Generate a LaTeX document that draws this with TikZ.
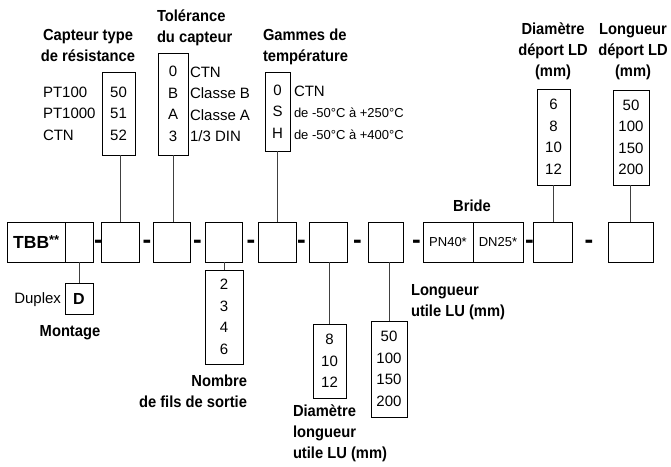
\documentclass[tikz,border=0pt]{standalone}
\usepackage{fontspec}
\setmainfont{Liberation Sans}
\newfontfamily\hdfam{Liberation Sans}[FakeStretch=0.92]
\newcommand{\hdfont}{\hdfam\bfseries\fontsize{16}{21}\selectfont}
\newcommand{\valfont}{\fontsize{15}{21.5}\selectfont}
\newcommand{\smfont}{\fontsize{13}{21.5}\selectfont}
\begin{document}
\begin{tikzpicture}[x=1pt,y=-1pt,inner sep=0pt,outer sep=0pt,line width=0.8pt,
cell/.style={draw,rectangle,minimum height=40pt},
codebox/.style={draw,rectangle,align=center,font=\valfont},
title/.style={font=\hdfont},
sep/.style={font=\bfseries\fontsize{26}{26}\selectfont,anchor=base},
link/.style={draw=black!75}]
\useasboundingbox (0,0) rectangle (671,466);
% main row
\draw (36.25,242) node[cell,minimum width=57.5pt,font=\bfseries\fontsize{17.5}{17.5}\selectfont] (tbb) {TBB\raisebox{4pt}{\fontsize{13}{13}\selectfont **}};
\draw (79,242) node[cell,minimum width=28pt] (mont) {};
\draw (120,242) node[cell,minimum width=38pt] (capt) {};
\draw (171.5,242) node[cell,minimum width=37pt] (tol) {};
\draw (223.5,242) node[cell,minimum width=37pt] (fils) {};
\draw (277,242) node[cell,minimum width=38pt] (gam) {};
\draw (328,242) node[cell,minimum width=38pt] (dlu) {};
\draw (385.5,242) node[cell,minimum width=35pt] (lu) {};
\draw (448,242) node[cell,minimum width=50pt,font=\fontsize{13}{13}\selectfont] (pn) {PN40*};
\draw (498,242) node[cell,minimum width=50pt,font=\fontsize{13}{13}\selectfont] (dn) {DN25*};
\draw (552.5,242) node[cell,minimum width=39pt] (dld) {};
\draw (630.5,242) node[cell,minimum width=45pt] (lld) {};
\foreach \x [count=\i] in {98.5,147,197.5,251,301.5,357.5,416.5,529.5,589}
  \node[sep] (dash\i) at (\x,248) {-};
% code boxes above
\draw (118.5,113.5) node[codebox,minimum width=33pt,minimum height=83pt] (captv) {50\\51\\52};
\draw (173,104) node[codebox,minimum width=30pt,minimum height=102pt] (tolv) {0\\B\\A\\3};
\draw (277.5,111.5) node[codebox,minimum width=25pt,minimum height=79pt] (gamv) {0\\S\\H};
\draw (553.5,137) node[codebox,minimum width=33pt,minimum height=96pt] (dldv) {6\\8\\10\\12};
\draw (631,137.5) node[codebox,minimum width=36pt,minimum height=95pt] (lldv) {50\\100\\150\\200};
% code boxes below
\draw (79,298.5) node[codebox,minimum width=28pt,minimum height=31pt,font=\bfseries\fontsize{16}{16}\selectfont] (montv) {D};
\draw (224,317) node[codebox,minimum width=38pt,minimum height=94pt] (filsv) {2\\3\\4\\6};
\draw (329.5,361) node[codebox,minimum width=33pt,minimum height=74pt] (dluv) {8\\10\\12};
\draw (389,369) node[codebox,minimum width=36pt,minimum height=96pt] (luv) {50\\100\\150\\200};
% side texts
\draw (43,113.5) node[anchor=west,align=left,font=\valfont] (captl) {PT100\\PT1000\\CTN};
\draw (190,104.5) node[anchor=west,align=left,font=\valfont] (toll) {CTN\\Classe B\\Classe A\\1/3 DIN};
\draw (294,112.5) node[anchor=west,align=left,font=\smfont] (gaml) {{\valfont CTN}\\de -50°C à +250°C\\de -50°C à +400°C};
\draw (61,300) node[anchor=east,font=\valfont] (montl) {Duplex};
% titles
\draw (88,45) node[title,align=center] (captt) {Capteur type\\de résistance};
\draw (157,28) node[title,anchor=west,align=left] (tolt) {Tolérance\\du capteur};
\draw (263,47) node[title,anchor=west,align=left] (gamt) {Gammes de\\température};
\draw (553,51.5) node[title,align=center] (dldt) {Diamètre\\déport LD\\(mm)};
\draw (633,51.5) node[title,align=center] (lldt) {Longueur\\déport LD\\(mm)};
\draw (472,206) node[title] (bridet) {Bride};
\draw (70,333) node[title] (montt) {Montage};
\draw (247,391) node[title,anchor=east,align=right] (filst) {Nombre\\de fils de sortie};
\draw (293,433) node[title,anchor=west,align=left] (dlut) {Diamètre\\longueur\\utile LU (mm)};
\draw (411,302) node[title,anchor=west,align=left] (lut) {Longueur\\utile LU (mm)};
% links
\draw[link] (capt.north) -- (capt.north |- captv.south);
\draw[link] (tolv.south) -- (tolv.south |- tol.north);
\draw[link] (gam.north) -- (gam.north |- gamv.south);
\draw[link] (dldv.south) -- (dldv.south |- dld.north);
\draw[link] (lld.north) -- (lld.north |- lldv.south);
\draw[link] (mont.south) -- (mont.south |- montv.north);
\draw[link] (filsv.north) -- (filsv.north |- fils.south);
\draw[link] (dluv.north) -- (dluv.north |- dlu.south);
\draw[link] (luv.north) -- (luv.north |- lu.south);
\end{tikzpicture}
\end{document}
